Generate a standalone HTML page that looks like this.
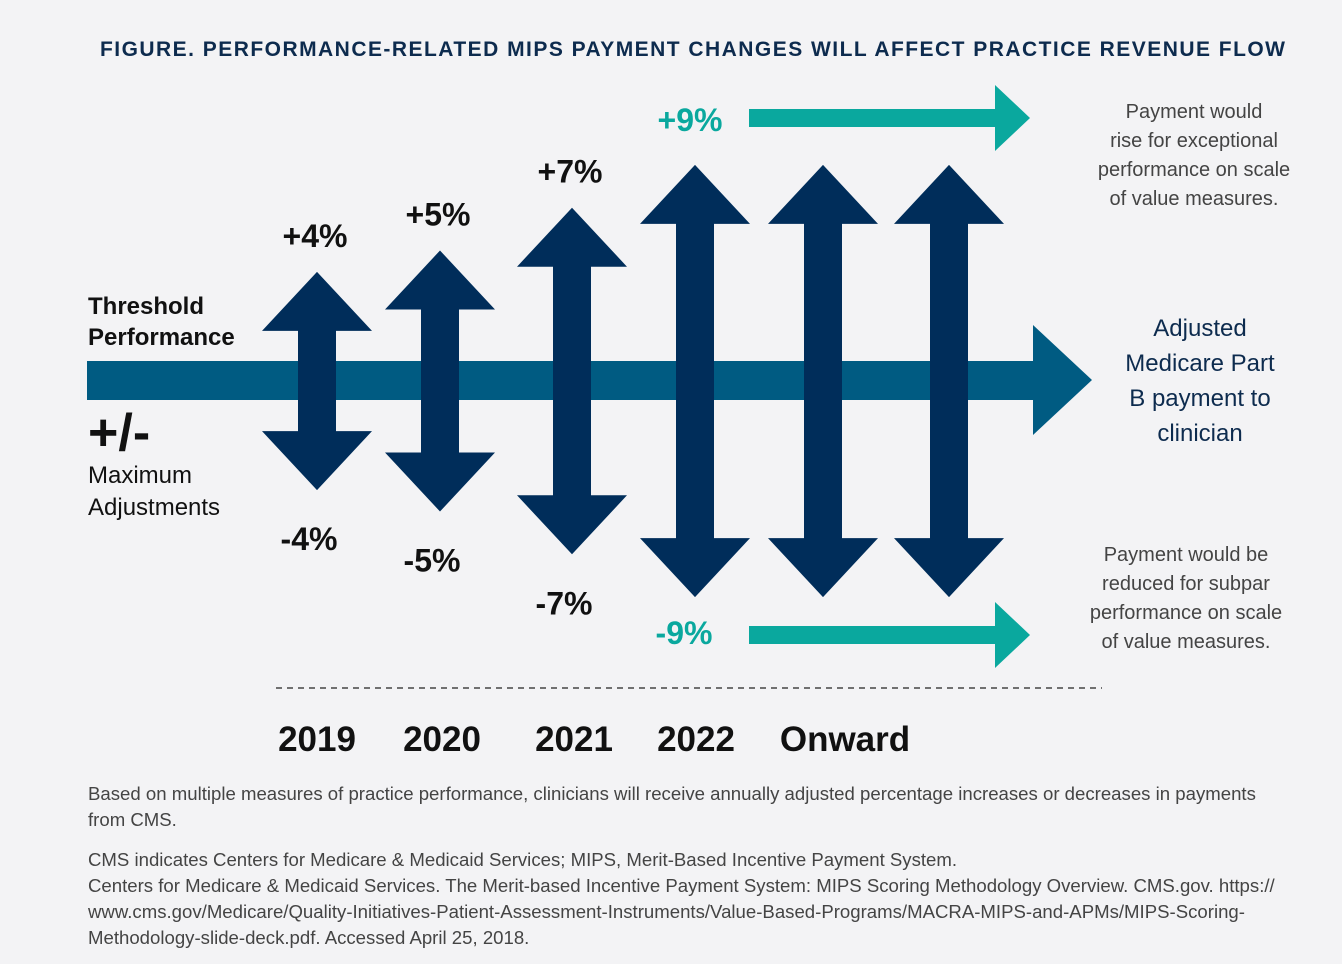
<!DOCTYPE html>
<html><head><meta charset="utf-8"><style>
body{margin:0;background:#f3f3f5;width:1342px;height:964px;overflow:hidden;font-family:"Liberation Sans",sans-serif;}
svg{position:absolute;left:0;top:0}
.t{position:absolute;margin:0;white-space:nowrap}
</style></head><body>
<svg width="1342" height="964">
<text x="100" y="56" font-size="21" font-weight="bold" textLength="1185" lengthAdjust="spacing" fill="#0d2b4e">FIGURE. PERFORMANCE-RELATED MIPS PAYMENT CHANGES WILL AFFECT PRACTICE REVENUE FLOW</text>
<g id="marks"></g>
<line x1="276" y1="688" x2="1102" y2="688" stroke="#222" stroke-width="1.3" stroke-dasharray="6,5"/>
<text x="88" y="314" font-size="24" font-weight="bold" fill="#111">Threshold</text>
<text x="88" y="345" font-size="24" font-weight="bold" fill="#111">Performance</text>
<text x="88" y="450" font-size="52" font-weight="bold" fill="#111">+/-</text>
<text x="88" y="483" font-size="24" fill="#111">Maximum</text>
<text x="88" y="515" font-size="24" fill="#111">Adjustments</text>
<g font-size="24" fill="#0d2b4e" text-anchor="middle">
<text x="1200" y="336">Adjusted</text><text x="1200" y="371">Medicare Part</text><text x="1200" y="406">B payment to</text><text x="1200" y="441">clinician</text></g>
<g font-size="20" fill="#444" text-anchor="middle">
<text x="1194" y="118">Payment would</text><text x="1194" y="147">rise for exceptional</text><text x="1194" y="176">performance on scale</text><text x="1194" y="205">of value measures.</text></g>
<g font-size="20" fill="#444" text-anchor="middle">
<text x="1186" y="561">Payment would be</text><text x="1186" y="590">reduced for subpar</text><text x="1186" y="619">performance on scale</text><text x="1186" y="648">of value measures.</text></g>
<text x="690" y="131" font-size="32" font-weight="bold" fill="#0aa89e" text-anchor="middle">+9%</text>
<text x="684" y="644" font-size="32" font-weight="bold" fill="#0aa89e" text-anchor="middle">-9%</text>
<g id="years" font-size="35" font-weight="bold" fill="#111" text-anchor="middle"></g>
</svg>
<div class="t" style="left:88px;top:781px;font-size:18.6px;line-height:26px;color:#444">Based on multiple measures of practice performance, clinicians will receive annually adjusted percentage increases or decreases in payments<br>from CMS.</div>
<div class="t" style="left:88px;top:847px;font-size:18.6px;line-height:26px;color:#444">CMS indicates Centers for Medicare &amp; Medicaid Services; MIPS, Merit-Based Incentive Payment System.<br>Centers for Medicare &amp; Medicaid Services. The Merit-based Incentive Payment System: MIPS Scoring Methodology Overview. CMS.gov. https://<br>www.cms.gov/Medicare/Quality-Initiatives-Patient-Assessment-Instruments/Value-Based-Programs/MACRA-MIPS-and-APMs/MIPS-Scoring-<br>Methodology-slide-deck.pdf. Accessed April 25, 2018.</div>
<script>
const years=["2019","2020","2021","2022","Onward",""];
const values=[4,5,7,9,9,9];
const labels=["+4%","+5%","+7%","","",""];
const negLabels=["-4%","-5%","-7%","","",""];
const NS="http://www.w3.org/2000/svg";
const cx=[317,440,572,695,823,949];
const yearX=[317,442,574,696,845,0];
const cy=381;
function half(v){return 23.5+21.4*v;}
const g=document.getElementById('marks');
function mk(tag,attrs){const e=document.createElementNS(NS,tag);for(const k in attrs)e.setAttribute(k,attrs[k]);return e;}
let bar=mk('polygon',{points:"87,361 1033,361 1033,325 1092,380 1033,435 1033,400 87,400",fill:"#005b82"});


g.appendChild(bar);
[[118,'rise-arrow'],[635,'reduce-arrow']].forEach(([y,n])=>{
 let a=mk('polygon',{points:`749,${y-9} 995,${y-9} 995,${y-33} 1030,${y} 995,${y+33} 995,${y+9} 749,${y+9}`,fill:"#0aa89e"});
 
 
 g.appendChild(a);
});
const yg=document.getElementById('years');
values.forEach((v,i)=>{
 const h=half(v),x=cx[i],top=cy-h,bot=cy+h,hh=59,hw=55,sw=19;
 let p=mk('polygon',{points:`${x},${top} ${x+hw},${top+hh} ${x+sw},${top+hh} ${x+sw},${bot-hh} ${x+hw},${bot-hh} ${x},${bot} ${x-hw},${bot-hh} ${x-sw},${bot-hh} ${x-sw},${top+hh} ${x-hw},${top+hh}`,fill:"#002d5a"});
 
 
 g.appendChild(p);
 if(labels[i]){
  let t=mk('text',{x:x-2,y:top-25,'font-size':32,'font-weight':'bold',fill:'#111','text-anchor':'middle'});
  t.textContent=labels[i];
  
  
  g.appendChild(t);
  let b=mk('text',{x:x-8,y:bot+60,'font-size':32,'font-weight':'bold',fill:'#111','text-anchor':'middle'});
  b.textContent=negLabels[i];
  
  
  g.appendChild(b);
 }
 if(years[i]){
  let y=mk('text',{x:yearX[i],y:751});
  y.textContent=years[i];
  
  
  yg.appendChild(y);
 }
});
</script>
</body></html>
